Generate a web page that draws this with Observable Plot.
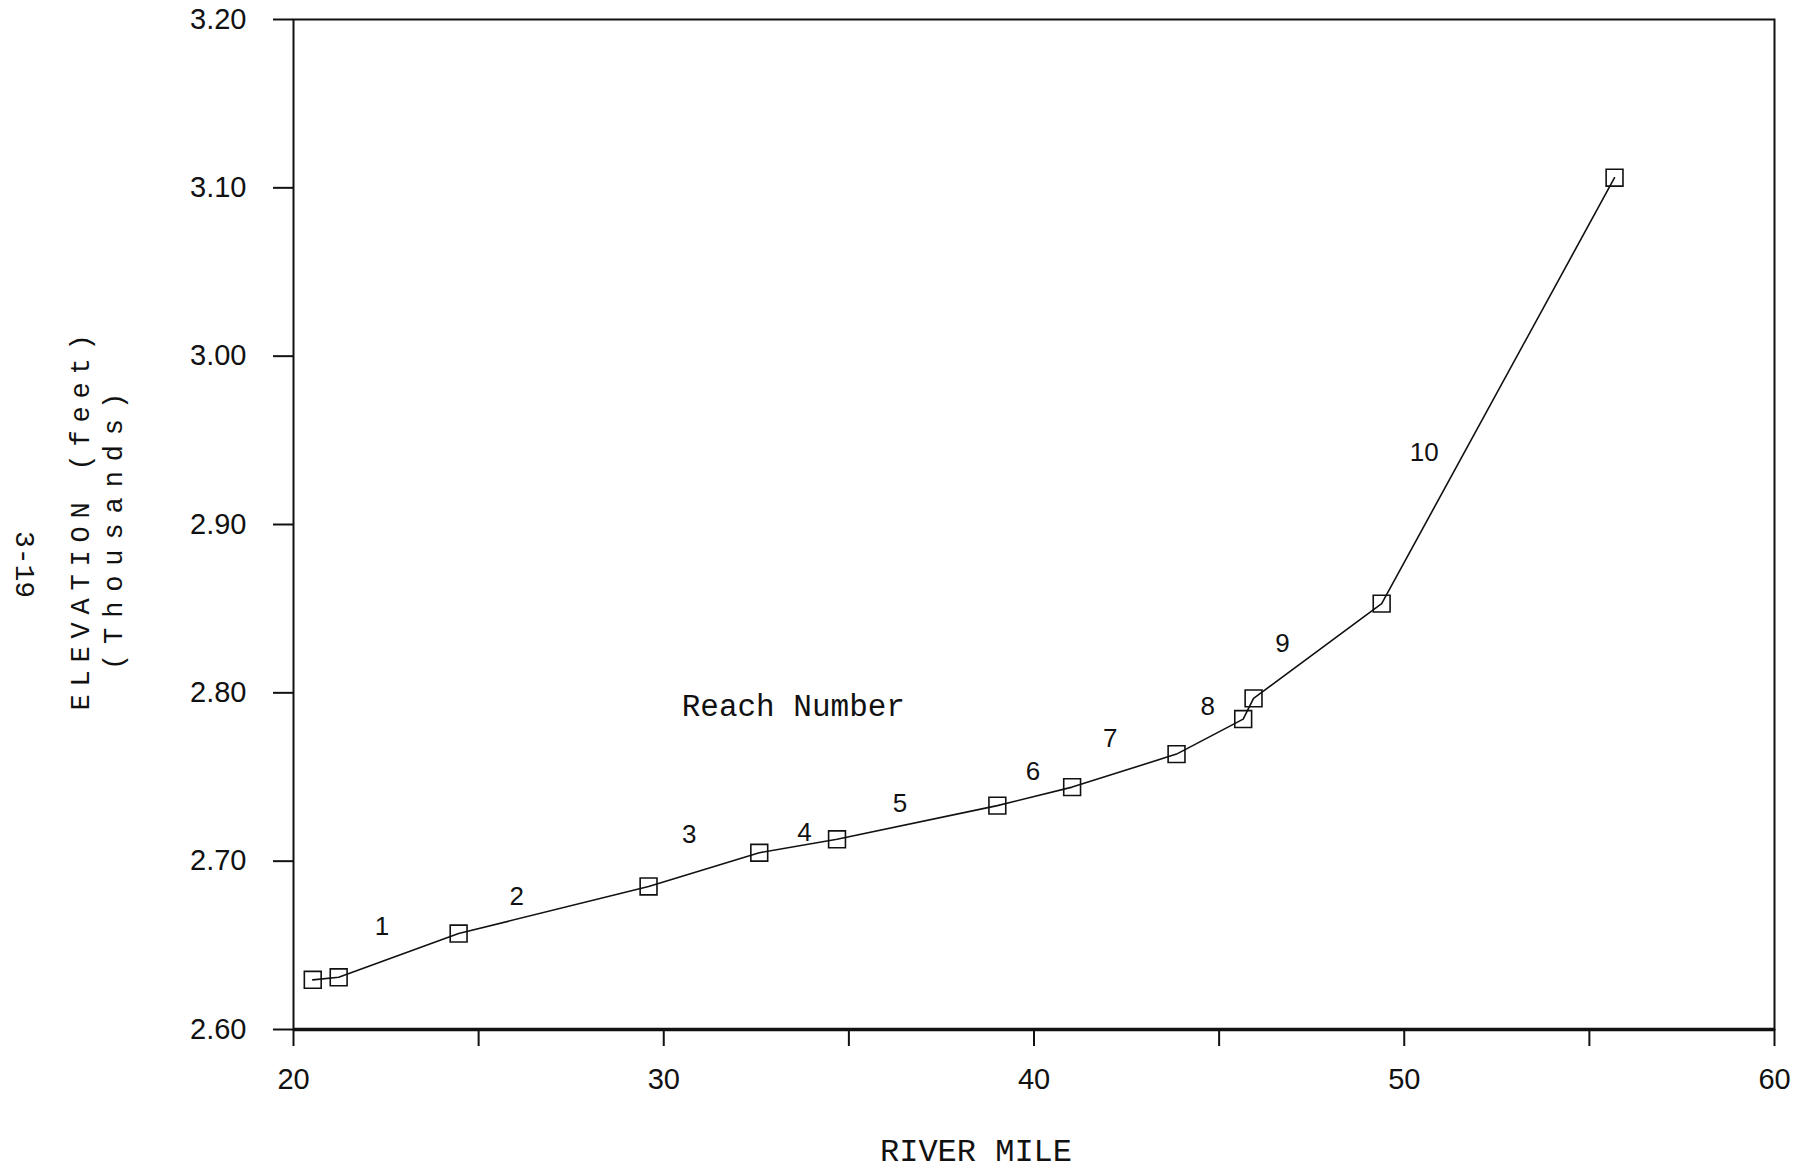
<!DOCTYPE html>
<html><head><meta charset="utf-8">
<script src="https://cdn.jsdelivr.net/npm/d3@7"></script>
<script src="https://cdn.jsdelivr.net/npm/@observablehq/plot@0.6"></script>
<style>body{margin:0;background:#fff}</style>
</head><body><div id="chart"></div>
<script>
// River mile vs. water-surface elevation (thousands of feet)
const riverMile = [20.52, 21.22, 24.46, 29.59, 32.58, 34.68, 39.01, 41.03, 43.85, 45.65, 45.93, 49.39, 55.68];
const elevation = [2.6295, 2.631, 2.657, 2.685, 2.705, 2.713, 2.733, 2.744, 2.7636, 2.7844, 2.7967, 2.853, 3.106];

// Reach number labels
const reachLabels = ["1", "2", "3", "4", "5", "6", "7", "8", "9", "10"];
const reachX = [22.39, 26.03, 30.69, 33.80, 36.38, 39.97, 42.06, 44.69, 46.71, 50.54];
const reachY = [2.661, 2.679, 2.716, 2.717, 2.734, 2.753, 2.773, 2.7915, 2.829, 2.9426];

const annotationText = ["Reach Number"];
const annotationX = [33.5];
const annotationY = [2.792];

const xTicks = [20, 25, 30, 35, 40, 45, 50, 55, 60];
const xTickLabels = ["20", "", "30", "", "40", "", "50", "", "60"];
const yTicks = [2.6, 2.7, 2.8, 2.9, 3.0, 3.1, 3.2];
const yTickLabels = ["2.60", "2.70", "2.80", "2.90", "3.00", "3.10", "3.20"];

const xTitle = "RIVER MILE";
const yTitle = "ELEVATION (feet)";
const yTitle2 = "(Thousands)";
const pageNumber = "3-19";

const points = riverMile.map((x, i) => ({x, y: elevation[i]}));
const reaches = reachLabels.map((t, i) => ({t, x: reachX[i], y: reachY[i]}));
const notes = annotationText.map((t, i) => ({t, x: annotationX[i], y: annotationY[i]}));

const ink = "#111";
const mono = "'Liberation Mono', 'Courier New', monospace";

const chart = Plot.plot({
  width: 1809, height: 1170,
  marginLeft: 293, marginRight: 35, marginTop: 19, marginBottom: 141,
  x: {domain: [20, 60]},
  y: {domain: [2.6, 3.2]},
  style: {fontFamily: "'Liberation Sans', Arial, sans-serif", fontSize: "29px", color: ink, background: "white"},
  marks: [
    Plot.frame({stroke: ink, strokeWidth: 2}),
    Plot.ruleY([2.6], {stroke: ink, strokeWidth: 3.5}),
    Plot.axisX({ticks: xTicks, tickFormat: d => xTickLabels[xTicks.indexOf(d)], tickSize: 17, tickPadding: 22, label: null, strokeWidth: 2, fontSize: 29}),
    Plot.axisY({ticks: yTicks, tickFormat: d => yTickLabels[yTicks.findIndex(v => Math.abs(v - d) < 1e-9)], tickSize: 20, tickPadding: 27, label: null, strokeWidth: 2, fontSize: 29}),
    Plot.line(points, {x: "x", y: "y", stroke: ink, strokeWidth: 1.6}),
    Plot.dot(points, {x: "x", y: "y", symbol: "square", r: 9.5, stroke: ink, strokeWidth: 1.6, fill: "none"}),
    Plot.text(reaches, {x: "x", y: "y", text: "t", fontSize: 26, fill: ink}),
    Plot.text(notes, {x: "x", y: "y", text: "t", fontSize: 31, fontFamily: mono, fill: ink}),
    Plot.text([xTitle], {text: d => d, frameAnchor: "bottom", textAnchor: "middle", lineAnchor: "middle", dx: -58, dy: 121, fontFamily: mono, fontSize: 32, fill: ink}),
    Plot.text([yTitle], {text: d => d, frameAnchor: "left", textAnchor: "middle", lineAnchor: "middle", rotate: -90, dx: -213, dy: -6, fontFamily: mono, fontSize: 27, fill: ink}),
    Plot.text([yTitle2], {text: d => d, frameAnchor: "left", textAnchor: "middle", lineAnchor: "middle", rotate: -90, dx: -180, dy: 2, fontFamily: mono, fontSize: 27, fill: ink}),
    Plot.text([pageNumber], {text: d => d, frameAnchor: "left", textAnchor: "middle", lineAnchor: "middle", rotate: 90, dx: -269, dy: 40, fontFamily: mono, fontSize: 28, fill: ink})
  ]
});
d3.select(chart).selectAll("text").each(function() {
  const t = this.textContent;
  if (t === yTitle) d3.select(this).attr("letter-spacing", "7.8px");
  if (t === yTitle2) d3.select(this).attr("letter-spacing", "9.9px");
});
document.getElementById("chart").appendChild(chart);
</script>
</body></html>
